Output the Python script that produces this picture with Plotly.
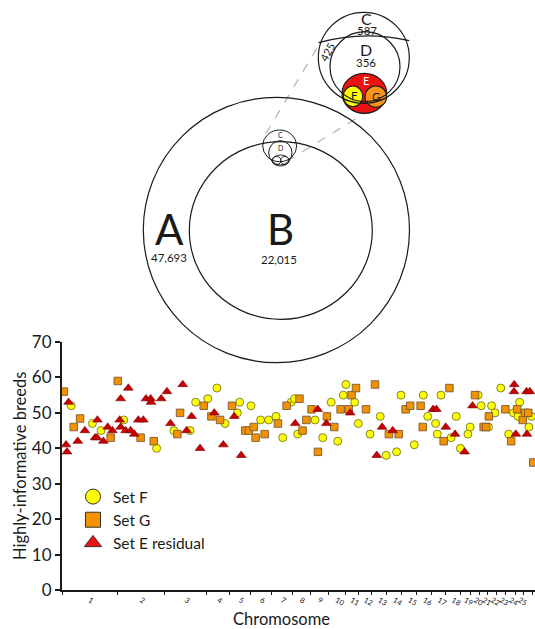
import plotly.graph_objects as go

W, H = 535, 629
FONT = "Lato"

# ---------------- data ----------------
chrom_labels = [str(i) for i in range(1, 27)]
chrom_lengths = [288, 246, 220, 118, 109, 111, 106, 92, 95, 87, 69, 70, 78,
                 78, 78, 78, 74, 73, 56, 45, 44, 43, 50, 48, 45, 48]

setF_pos = [48, 158, 203, 321, 492, 582, 666, 695, 758, 806, 848, 912, 924, 983,
            1033, 1075, 1113, 1148, 1192, 1210, 1226, 1316, 1356, 1400, 1434, 1463,
            1477, 1522, 1541, 1602, 1655, 1686, 1740, 1763, 1832, 1879, 1902, 1943,
            1952, 1971, 2024, 2050, 2072, 2111, 2123, 2164, 2180, 2218, 2234, 2252,
            2282, 2323, 2348, 2372, 2380, 2428, 2442]
setF_breeds = [52, 47, 45, 48, 40, 45, 45, 53, 54, 57, 47, 50, 53, 52, 48, 48, 49,
               43, 53, 54, 44, 48, 43, 53, 42, 55, 58, 53, 47, 44, 49, 38, 39, 55,
               41, 55, 49, 47, 44, 55, 43, 49, 40, 44, 46, 55, 52, 46, 52, 50, 57,
               44, 50, 49, 53, 46, 49]

setG_pos = [10, 61, 94, 253, 290, 409, 477, 600, 614, 737, 777, 822, 884, 953, 972,
            997, 1007, 1054, 1123, 1168, 1235, 1251, 1271, 1298, 1331, 1378, 1416,
            1449, 1491, 1506, 1529, 1581, 1628, 1700, 1751, 1787, 1811, 1865, 1876,
            1985, 2015, 2148, 2193, 2206, 2220, 2306, 2336, 2367, 2396, 2408, 2425,
            2451]
setG_breeds = [56, 46, 48.4, 43, 59, 43, 42, 44, 50, 52, 49, 48, 52, 45, 45, 46, 43,
               44, 47, 52, 54, 45, 48, 51, 39, 49, 46, 51, 51, 55, 57, 51, 58, 44,
               44, 51, 52, 52, 46, 42, 57, 55, 46, 46, 49, 51, 42, 51, 48, 50, 50, 36]

setE_pos = [21, 26, 34, 82, 119, 172, 182, 184, 215, 238, 262, 300, 305, 305, 331,
            345, 357, 376, 397, 423, 437, 461, 463, 516, 546, 564, 628, 648, 674,
            718, 792, 839, 896, 932, 1213, 1330, 1375, 1499, 1637, 1665, 1720, 1930,
            1947, 1996, 2044, 2094, 2135, 2352, 2351, 2360, 2416, 2433, 2418]
setE_breeds = [41, 39, 53, 42, 45, 43, 43, 48, 42, 46, 45, 48, 46, 54, 45, 57, 45,
               44, 48, 48, 54, 54, 53, 54, 56, 47, 58, 45, 49, 40, 50, 41, 49, 38,
               47, 51, 47, 50, 38, 46, 45, 51, 51, 46, 44, 39, 52, 58, 56, 44, 56,
               56, 44]

series_names = ["Set F", "Set G", "Set E residual"]
y_ticks = [0, 10, 20, 30, 40, 50, 60, 70]

# Euler diagram labels
set_names = ["A", "B", "C", "D", "E", "F", "G"]
set_counts = ["47,693", "22,015", "587", "356"]
overlap_count = "425"

# ---------------- derived axis positions ----------------
bounds = [0]
for L in chrom_lengths:
    bounds.append(bounds[-1] + L)
mids = [(bounds[i] + bounds[i + 1]) / 2 for i in range(len(chrom_lengths))]

# ---------------- figure ----------------
fig = go.Figure()

fill_F, line_F = "#FFFF00", "#77772a"
fill_G, line_G = "#F39200", "#7a5a32"
fill_E, line_E = "#C80000", "#7a0000"

fig.add_trace(go.Scatter(x=setF_pos, y=setF_breeds, mode="markers", showlegend=False,
                         marker=dict(symbol="circle", size=8, color=fill_F,
                                     line=dict(color=line_F, width=0.9))))
fig.add_trace(go.Scatter(x=setG_pos, y=setG_breeds, mode="markers", showlegend=False,
                         marker=dict(symbol="square", size=7.5, color=fill_G,
                                     line=dict(color=line_G, width=0.9))))
fig.add_trace(go.Scatter(x=setE_pos, y=setE_breeds, mode="markers", showlegend=False,
                         marker=dict(symbol="triangle-up", size=8.5, color=fill_E,
                                     line=dict(color=line_E, width=0.6))))

# legend-only entries (bigger symbols like the reference legend)
for name, sym, fc, lc in [(series_names[0], "circle", fill_F, "#333333"),
                          (series_names[1], "square", fill_G, "#333333"),
                          (series_names[2], "triangle-up", "#EE1111", "#333333")]:
    fig.add_trace(go.Scatter(x=[None], y=[None], mode="markers", name=name,
                             marker=dict(symbol=sym, size=15, color=fc,
                                         line=dict(color=lc, width=1))))

# ---------------- Euler diagram (drawn in page pixel space) ----------------
def px(x):
    return x / W


def py(y):
    return 1 - y / H


shapes = []


def circle(x0, x1, y0, y1, color="#1a1a1a", width=1.2, fill="rgba(0,0,0,0)"):
    shapes.append(dict(type="circle", xref="paper", yref="paper",
                       x0=px(x0), x1=px(x1), y0=py(y1), y1=py(y0),
                       line=dict(color=color, width=width), fillcolor=fill,
                       layer="above"))


def seg(x0, y0, x1, y1, color="#b8b8b8", width=1.3, dash="dash"):
    shapes.append(dict(type="line", xref="paper", yref="paper",
                       x0=px(x0), y0=py(y0), x1=px(x1), y1=py(y1),
                       line=dict(color=color, width=width, dash=dash), layer="above"))


# dashed zoom connectors
seg(266, 133.5, 320, 43)
seg(286.7, 161.5, 365, 113)

# big circles
circle(143.3, 409.5, 97.3, 362.7)
circle(189.3, 372.3, 141.7, 319.3)
# small C, D, E/F/G
circle(262.7, 296.7, 130, 161.7, width=1)
circle(268.7, 292, 140.7, 165, width=1)
circle(272, 289, 155, 166, width=0.9)
circle(272.5, 281, 156.5, 164.5, width=0.9)
circle(280.5, 289, 156.5, 164.5, width=0.9)

# inset
circle(342, 386.7, 73.3, 113.3, color="#1a1a1a", width=1.2, fill="#EE1111")
circle(343.3, 362.7, 86, 106.7, color="#1a1a1a", width=1.1, fill="#FFFF00")
circle(365, 386.7, 86, 107.3, color="#1a1a1a", width=1.1, fill="#F7941D")
circle(318.3, 409.3, 12.3, 103.3, width=1.2)
circle(330, 400, 31.7, 101.7, width=1.2)
shapes.append(dict(type="path", xref="paper", yref="paper",
                   path="M %f,%f Q %f,%f %f,%f" % (px(318.6), py(42.7), px(363.8), py(30.3),
                                                  px(409.2), py(40.7)),
                   line=dict(color="#1a1a1a", width=1.2), layer="above"))

annotations = []


def label(x, y, text, size, color="#1a1a1a", angle=0):
    annotations.append(dict(x=px(x), y=py(y), xref="paper", yref="paper", text=text,
                            showarrow=False, xanchor="center", yanchor="middle",
                            textangle=angle,
                            font=dict(family=FONT, size=size, color=color)))


label(169.3, 229, set_names[0], 42)
label(169.3, 257, set_counts[0], 11.5)
label(280.7, 229, set_names[1], 42)
label(279.3, 259, set_counts[1], 11.5)
label(280, 135, set_names[2], 7)
label(280, 147.5, set_names[3], 7)
label(366, 18.5, set_names[2], 16)
label(366.7, 31, set_counts[2], 11.5)
label(366, 50, set_names[3], 16)
label(366, 63, set_counts[3], 11.5)
label(327.7, 52, overlap_count, 11, angle=-62)
label(366, 81, set_names[4], 11, color="white")
label(354.8, 95.5, set_names[5], 11.5)
label(375.5, 96.5, set_names[6], 11.5)

# axis titles
label(20, 466, "Highly-informative breeds", 16.5, angle=-90)
label(281, 618.5, "Chromosome", 16.5)

fig.update_layout(
    width=W, height=H, autosize=False,
    margin=dict(l=0, r=0, t=0, b=0, pad=0),
    paper_bgcolor="white", plot_bgcolor="white",
    font=dict(family=FONT, color="#1a1a1a"),
    shapes=shapes, annotations=annotations,
    showlegend=True,
    legend=dict(x=px(73), y=py(480), xanchor="left", yanchor="top",
                bgcolor="rgba(0,0,0,0)", font=dict(family=FONT, size=15.5, color="#1a1a1a"),
                itemwidth=30, tracegroupgap=0),
    xaxis=dict(domain=[62 / W, 1], range=[0, 2460], showgrid=False, zeroline=False,
               automargin=False,
               showline=True, linecolor="#1a1a1a", linewidth=2,
               tickmode="array", tickvals=mids, ticktext=chrom_labels,
               ticks="", tickfont=dict(family=FONT, size=7.5, color="#222222"),
               ticklabelstandoff=1,
               minor=dict(tickmode="array", tickvals=bounds, ticks="outside",
                          ticklen=3, tickcolor="#1a1a1a", tickwidth=1)),
    yaxis=dict(domain=[1 - 590 / H, 1 - 342 / H], range=[0, 70], showgrid=False,
               automargin=False,
               zeroline=False, showline=True, linecolor="#1a1a1a", linewidth=2,
               tickmode="array", tickvals=y_ticks, ticks="outside", ticklen=5,
               tickwidth=1.5, tickcolor="#1a1a1a",
               tickfont=dict(family=FONT, size=17, color="#1a1a1a")),
)

fig.write_html("out.html", config={"displayModeBar": False},
               post_script="document.body.style.margin='0px';"
                           "document.body.style.overflow='hidden';")
